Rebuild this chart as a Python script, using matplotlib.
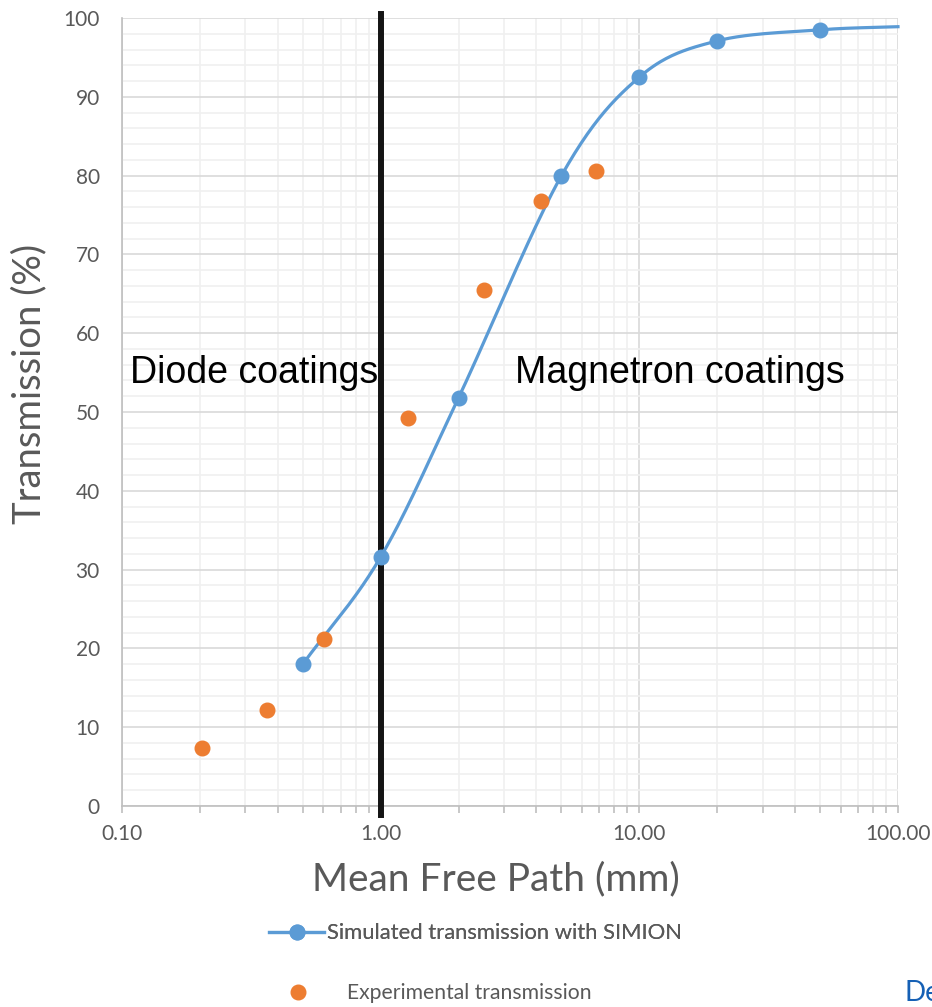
import numpy as np
import matplotlib
matplotlib.use('Agg')
import matplotlib.pyplot as plt
from matplotlib.ticker import FixedLocator, FuncFormatter, MultipleLocator
from matplotlib.lines import Line2D

# simulated transmission (SIMION) and measured points
sim_mfp = [0.5, 1.0, 2.0, 5.0, 10.0, 20.0, 50.0, 100.0]
sim_trans = [18.0, 31.6, 51.8, 80.0, 92.5, 97.1, 98.5, 98.9]
exp_mfp = [0.203, 0.362, 0.602, 1.27, 2.52, 4.15, 6.78]
exp_trans = [7.4, 12.2, 21.2, 49.2, 65.5, 76.8, 80.6]
x_ticks = [0.1, 1, 10, 100]
y_ticks = [0, 10, 20, 30, 40, 50, 60, 70, 80, 90, 100]

blue = '#5b9bd5'
orange = '#ed7d31'
grey = '#595959'
font = ['Lato', 'DejaVu Sans']


def smooth(xs, ys, n=40):
    # catmull-rom through the points in (log x, y), like a spreadsheet smoothed line
    u = np.log10(xs)
    v = np.array(ys, dtype=float)
    pu = np.concatenate([[2 * u[0] - u[1]], u, [2 * u[-1] - u[-2]]])
    pv = np.concatenate([[2 * v[0] - v[1]], v, [2 * v[-1] - v[-2]]])
    out_u, out_v = [], []
    t = np.linspace(0, 1, n)
    for i in range(1, len(pu) - 2):
        for p, out in ((pu, out_u), (pv, out_v)):
            p0, p1, p2, p3 = p[i - 1], p[i], p[i + 1], p[i + 2]
            out.extend(0.5 * ((2 * p1) + (-p0 + p2) * t
                              + (2 * p0 - 5 * p1 + 4 * p2 - p3) * t ** 2
                              + (-p0 + 3 * p1 - 3 * p2 + p3) * t ** 3))
    return 10 ** np.array(out_u), np.array(out_v)


fig = plt.figure(figsize=(9.32, 10.07), dpi=100)
ax = fig.add_axes([0.1309, 0.1996, 0.8326, 0.7825])
ax.set_xscale('log')
ax.set_xlim(0.1, 100)
ax.set_ylim(0, 100)

# grid
ax.xaxis.set_major_locator(FixedLocator(x_ticks))
ax.xaxis.set_minor_locator(FixedLocator([m * d for d in [0.1, 1, 10] for m in range(2, 10)]))
ax.yaxis.set_major_locator(FixedLocator(y_ticks))
ax.yaxis.set_minor_locator(MultipleLocator(2))
ax.grid(which='major', color='#d9d9d9', lw=1.2)
ax.grid(which='minor', color='#f0f0f0', lw=1.2)
ax.set_axisbelow(True)

for s in ['top', 'right']:
    ax.spines[s].set_visible(False)
for s in ['left', 'bottom']:
    ax.spines[s].set_color('#bfbfbf')
    ax.spines[s].set_linewidth(1.2)

ax.xaxis.set_major_formatter(FuncFormatter(lambda v, p: '%.2f' % v))
ax.xaxis.set_minor_formatter(FuncFormatter(lambda v, p: ''))
ax.tick_params(axis='x', which='both', direction='out', length=5, width=1.2,
               color='#bfbfbf', labelsize=15, labelcolor=grey, pad=8)
ax.tick_params(axis='y', which='both', length=0, labelsize=15, labelcolor=grey, pad=16)
for lab in ax.get_xticklabels() + ax.get_yticklabels():
    lab.set_family(font)

# black divider at 1 mm
ax.plot([1, 1], [-1.1, 100.5], color='#141414', lw=4.3, clip_on=False, zorder=4)

sx, sy = smooth(sim_mfp, sim_trans)
ax.plot(sx, sy, color=blue, lw=2.3, zorder=5, clip_on=False)
ax.plot(sim_mfp[:-1], sim_trans[:-1], 'o', color=blue, ms=10.5, zorder=6, clip_on=False)
ax.plot(exp_mfp, exp_trans, 'o', color=orange, ms=10.5, zorder=6, clip_on=False)

ax.text(0.107, 55, 'Diode coatings', fontsize=27, family=['Liberation Sans'], va='center', ha='left')
ax.text(3.3, 55, 'Magnetron coatings', fontsize=27, family=['Liberation Sans'], va='center', ha='left')

ax.set_xlabel('Mean Free Path (mm)', fontsize=28, color=grey, family=font, va='center', ha='center')
ax.set_ylabel('Transmission (%)', fontsize=27.5, color=grey, family=font, va='center', ha='center')
ax.xaxis.set_label_coords(0.482, -0.093)
ax.yaxis.set_label_coords(-0.12, 0.535)

# legend, two entries stacked
h1 = Line2D([], [], color=blue, lw=2.3, marker='o', ms=10.5)
h2 = Line2D([], [], color=orange, lw=0, marker='o', ms=10.5)
leg1 = fig.legend([h1], ['Simulated transmission with SIMION'], loc='center left',
                  bbox_to_anchor=(0.289, 0.073), frameon=False, handlelength=2.5,
                  handletextpad=0.12, borderaxespad=0, borderpad=0,
                  prop={'family': font, 'size': 15.8}, labelcolor=grey)
fig.add_artist(leg1)
fig.legend([h2], ['Experimental transmission'], loc='center left',
           bbox_to_anchor=(0.311, 0.0135), frameon=False, handlelength=0.8,
           handletextpad=1.9, borderaxespad=0, borderpad=0,
           prop={'family': font, 'size': 15.2}, labelcolor=grey)

fig.text(0.971, 0.0135, 'De', fontsize=20, color='#1560b5', family=font, va='center', ha='left')

fig.savefig('out.png', dpi=100)
